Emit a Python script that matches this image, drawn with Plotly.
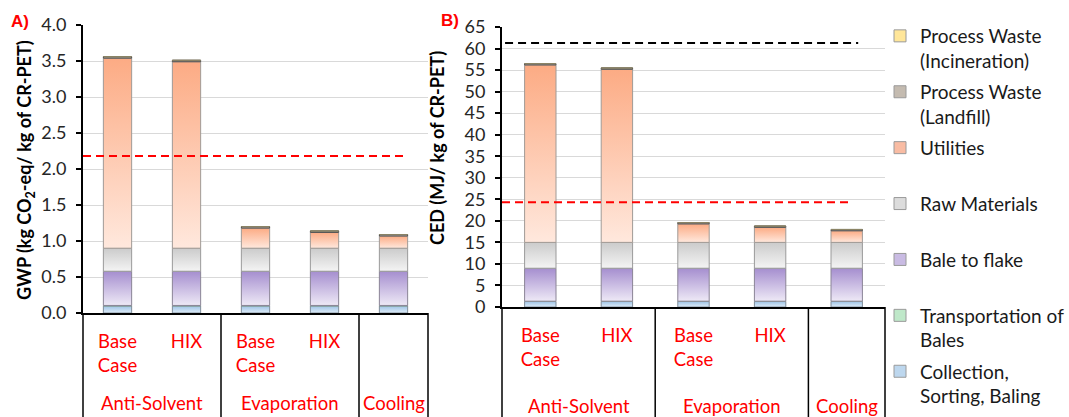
import plotly.graph_objects as go

# ---- data -------------------------------------------------------------
scenarios = ["Base<br>Case", "HIX", "Base<br>Case", "HIX", ""]
processes = ["Anti-Solvent", "Evaporation", "Cooling"]
process_sizes = [2, 2, 1]

series_names = [
    "Collection,<br>Sorting, Baling",
    "Transportation of<br>Bales",
    "Bale to flake<br> ",
    "Raw Materials<br> ",
    "Utilities<br> ",
    "Process Waste<br>(Landfill)",
    "Process Waste<br>(Incineration)",
]

# GWP, kg CO2-eq / kg CR-PET (stack order bottom -> top)
gwp_collection = [0.10, 0.10, 0.10, 0.10, 0.10]
gwp_transport = [0.005, 0.005, 0.005, 0.005, 0.005]
gwp_bale = [0.475, 0.475, 0.475, 0.475, 0.475]
gwp_raw = [0.32, 0.32, 0.32, 0.32, 0.32]
gwp_utilities = [2.64, 2.59, 0.28, 0.22, 0.17]
gwp_landfill = [0.02, 0.02, 0.02, 0.02, 0.02]
gwp_incineration = [0.003, 0.003, 0.003, 0.003, 0.003]
gwp_benchmark = 2.18

# CED, MJ / kg CR-PET
ced_collection = [1.3, 1.3, 1.3, 1.3, 1.3]
ced_transport = [0.05, 0.05, 0.05, 0.05, 0.05]
ced_bale = [7.65, 7.65, 7.65, 7.65, 7.65]
ced_raw = [6.0, 6.0, 6.0, 6.0, 6.0]
ced_utilities = [41.2, 40.2, 4.3, 3.5, 2.7]
ced_landfill = [0.3, 0.3, 0.3, 0.3, 0.3]
ced_incineration = [0.05, 0.05, 0.05, 0.05, 0.05]
ced_benchmark_red = 24.3
ced_benchmark_black = 61.3

# ---- styling ----------------------------------------------------------
# (light bottom, dark top, outline, legend swatch)
series_styles = [
    ("#DEEBF7", "#9DC3E6", "#7F8C99", "#BDD7EE"),
    ("#DDF3E3", "#9FDDAF", "#7F9985", "#BFE8C9"),
    ("#EEE9F6", "#A58ECF", "#8A8496", "#C9BBE3"),
    ("#F4F4F4", "#CBCBCB", "#9A9A9A", "#DCDCDC"),
    ("#FFE8DD", "#FCAB84", "#A09A96", "#F9BCA3"),
    ("#DCD5CC", "#8E8477", "#4A4A4A", "#C4BBB0"),
    ("#FFF2CC", "#FFD966", "#8C8466", "#FFE699"),
]

W, H = 1069, 417
CAL = "Lato"
BAR_W = 0.41

left_dom_x = [83 / W, 428 / W]
left_dom_y = [(H - 313) / H, (H - 25) / H]
right_dom_x = [502 / W, 885 / W]
right_dom_y = [(H - 307) / H, (H - 27) / H]

fig = go.Figure()


def add_stack(series, xa, ya):
    base = [0.0] * len(scenarios)
    for (vals, (lo, hi, edge, _)) in zip(series, series_styles):
        for i, v in enumerate(vals):
            b, t = base[i], base[i] + v
            fig.add_trace(go.Scatter(
                x=[i - BAR_W / 2, i + BAR_W / 2, i + BAR_W / 2, i - BAR_W / 2, i - BAR_W / 2],
                y=[b, b, t, t, b],
                xaxis=xa, yaxis=ya,
                mode="lines", fill="toself",
                fillgradient=dict(type="vertical", colorscale=[[0, lo], [1, hi]]),
                line=dict(color=edge, width=1),
                showlegend=False, hoverinfo="skip",
            ))
            base[i] = t


add_stack([gwp_collection, gwp_transport, gwp_bale, gwp_raw,
           gwp_utilities, gwp_landfill, gwp_incineration], "x", "y")
add_stack([ced_collection, ced_transport, ced_bale, ced_raw,
           ced_utilities, ced_landfill, ced_incineration], "x2", "y2")

# legend entries (top of stack listed first), one group each so every
# entry gets the same spacing
legend_items = list(zip(series_names, series_styles))[::-1]
for k, (name, (_, _, edge, sw)) in enumerate(legend_items):
    fig.add_trace(go.Bar(
        x=[None], y=[None], name=name, legendgroup=f"g{k}",
        marker=dict(color=sw, line=dict(color="#9A9A9A", width=1)),
        showlegend=True,
    ))

tick_font = dict(family=CAL, size=18, color="#262626")
cat_font = dict(family=CAL, size=18.5, color="#FF0000")

labelled = [i for i, s in enumerate(scenarios) if s]
x_common = dict(
    range=[-0.5, len(scenarios) - 0.5], tickvals=labelled,
    ticktext=[scenarios[i] for i in labelled], tickfont=cat_font, ticks="",
    showgrid=False, zeroline=False, showline=True, linecolor="black",
    linewidth=1.5, ticklabelstandoff=11,
)
y_common = dict(
    showline=True, linecolor="black", linewidth=2, ticks="outside",
    ticklen=5, tickwidth=1.5, tickcolor="black", tickfont=tick_font,
    gridcolor="#D9D9D9", gridwidth=1, zeroline=False, ticklabelstandoff=6,
)

fig.update_layout(
    width=W, height=H,
    margin=dict(l=0, r=0, t=0, b=0, autoexpand=False),
    paper_bgcolor="white", plot_bgcolor="white",
    xaxis=dict(domain=left_dom_x, anchor="y", **x_common),
    yaxis=dict(domain=left_dom_y, anchor="x", range=[0, 4], dtick=0.5,
               tickformat=".1f", **y_common),
    xaxis2=dict(domain=right_dom_x, anchor="y2", **x_common),
    yaxis2=dict(domain=right_dom_y, anchor="x2", range=[0, 65], dtick=5,
                **y_common),
    legend=dict(
        x=880 / W, xanchor="left", y=1 - 17 / H, yanchor="top",
        traceorder="grouped", tracegroupgap=3.5, valign="top",
        font=dict(family=CAL, size=19, color="#1A1A1A"),
        bgcolor="rgba(0,0,0,0)", itemclick=False,
    ),
    showlegend=True,
)

# group dividers and process labels under each category axis
shapes = []
annotations = []
for xa, ydom, label_y in [("x", left_dom_y, (H - 403) / H),
                          ("x2", right_dom_y, (H - 406) / H)]:
    n = len(scenarios)
    edges = [0]
    for s in process_sizes:
        edges.append(edges[-1] + s)
    for e in edges:
        shapes.append(dict(type="line", xref=f"{xa} domain", yref="paper",
                           x0=e / n, x1=e / n, y0=ydom[0], y1=0,
                           line=dict(color="black", width=1.5)))
    for k, name in enumerate(processes):
        center = (edges[k] + edges[k + 1]) / 2 - 0.5
        annotations.append(dict(text=name, x=center, xref=xa, y=label_y,
                                yref="paper", showarrow=False, font=cat_font,
                                xanchor="center", yanchor="middle"))

# benchmark lines
shapes.append(dict(type="line", xref="x domain", yref="y", x0=0, x1=0.933,
                   y0=gwp_benchmark, y1=gwp_benchmark,
                   line=dict(color="#FF0000", width=2, dash="8px,5px")))
shapes.append(dict(type="line", xref="x2 domain", yref="y2", x0=0, x1=0.916,
                   y0=ced_benchmark_red, y1=ced_benchmark_red,
                   line=dict(color="#FF0000", width=2, dash="8px,5px")))
shapes.append(dict(type="line", xref="x2 domain", yref="y2", x0=0.008, x1=0.93,
                   y0=ced_benchmark_black, y1=ced_benchmark_black,
                   line=dict(color="black", width=2, dash="8px,5px")))

# axis titles and panel tags
annotations += [
    dict(text="<b>GWP (kg CO<sub>2</sub>-eq/ kg of CR-PET)</b>", textangle=-90,
         x=25 / W, y=(H - 170) / H, xref="paper", yref="paper",
         showarrow=False, font=dict(family=CAL, size=18, color="black"),
         xanchor="center", yanchor="middle"),
    dict(text="<b>CED (MJ/ kg of CR-PET)</b>", textangle=-90,
         x=437 / W, y=(H - 148) / H, xref="paper", yref="paper",
         showarrow=False, font=dict(family=CAL, size=18, color="black"),
         xanchor="center", yanchor="middle"),
    dict(text="<b>A)</b>", x=20 / W, y=(H - 21) / H, xref="paper", yref="paper",
         showarrow=False, font=dict(family="Liberation Sans", size=17, color="#FF0000"),
         xanchor="center", yanchor="middle"),
    dict(text="<b>B)</b>", x=450 / W, y=(H - 20) / H, xref="paper", yref="paper",
         showarrow=False, font=dict(family="Liberation Sans", size=17, color="#FF0000"),
         xanchor="center", yanchor="middle"),
]

fig.update_layout(shapes=shapes, annotations=annotations)

fig.write_html("out.html")
